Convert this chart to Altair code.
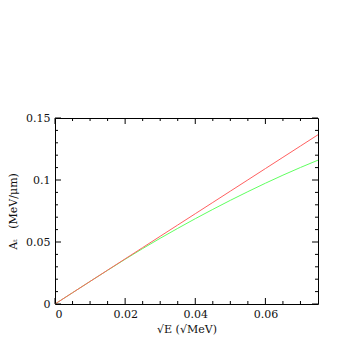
import altair as alt
import pandas as pd

x_vals = [0, 0.005, 0.01, 0.015, 0.02, 0.025, 0.03, 0.035, 0.04, 0.045, 0.05, 0.055, 0.06, 0.065, 0.07, 0.075]
red_vals = [0, 0.0091, 0.0182, 0.0273, 0.0364, 0.0455, 0.0546, 0.0637, 0.0728, 0.0819, 0.091, 0.1001, 0.1092, 0.1183, 0.1274, 0.1365]
green_vals = [0, 0.0091, 0.0182, 0.0272, 0.0361, 0.0447, 0.0530, 0.0610, 0.0688, 0.0763, 0.0836, 0.0906, 0.0974, 0.1039, 0.1101, 0.1160]

x_major = [0, 0.02, 0.04, 0.06]
x_minor = [0.005, 0.01, 0.015, 0.025, 0.03, 0.035, 0.045, 0.05, 0.055, 0.065, 0.07]
y_major = [0, 0.05, 0.1, 0.15]
y_minor = [0.01, 0.02, 0.03, 0.04, 0.06, 0.07, 0.08, 0.09, 0.11, 0.12, 0.13, 0.14]

W, H = 263, 186
FONT = "DejaVu Serif"

xs = alt.Scale(domain=[0, 0.075], nice=False, zero=False)
ys = alt.Scale(domain=[0, 0.15], nice=False, zero=False)

x_axis = alt.Axis(values=x_major, format=".2~f", tickSize=0, domain=False, grid=False,
                  labelFont=FONT, labelFontSize=11, labelPadding=4, labelColor="#111111",
                  titleFont=FONT, titleFontSize=11, titleFontWeight="normal",
                  titlePadding=4, titleColor="#111111")
y_axis = alt.Axis(values=y_major, format=".2~f", tickSize=0, domain=False, grid=False,
                  labelFont=FONT, labelFontSize=11, labelPadding=5, labelColor="#111111",
                  titleFont=FONT, titleFontSize=11, titleFontWeight="normal",
                  titlePadding=7, titleColor="#111111")
X_TITLE = "√E\u00a0(√MeV)"
Y_TITLE = "Aₜ\u00a0\u00a0\u00a0(MeV/μm)"

df = pd.DataFrame({"x": x_vals * 2,
                   "y": green_vals + red_vals,
                   "s": ["green"] * len(x_vals) + ["red"] * len(x_vals),
                   "o": [0] * len(x_vals) + [1] * len(x_vals)})

lines = alt.Chart(df).mark_line(strokeWidth=1).encode(
    x=alt.X("x:Q", scale=xs, title=X_TITLE, axis=x_axis),
    y=alt.Y("y:Q", scale=ys, title=Y_TITLE, axis=y_axis),
    color=alt.Color("s:N", scale=alt.Scale(domain=["green", "red"], range=["#60ff60", "#ff6060"]), legend=None),
    detail="s:N",
    order="o:Q",
)


def xticks(vals, length):
    d = pd.DataFrame({"x": vals})
    b = alt.Chart(d).mark_rule(color="black", strokeWidth=1).encode(
        x=alt.X("x:Q", scale=xs, title=X_TITLE, axis=x_axis), y=alt.value(H), y2=alt.value(H - length))
    t = alt.Chart(d).mark_rule(color="black", strokeWidth=1).encode(
        x=alt.X("x:Q", scale=xs, title=X_TITLE, axis=x_axis), y=alt.value(0), y2=alt.value(length))
    return [b, t]


def yticks(vals, length):
    d = pd.DataFrame({"y": vals})
    l = alt.Chart(d).mark_rule(color="black", strokeWidth=1).encode(
        y=alt.Y("y:Q", scale=ys, title=Y_TITLE, axis=y_axis), x=alt.value(0), x2=alt.value(length))
    r = alt.Chart(d).mark_rule(color="black", strokeWidth=1).encode(
        y=alt.Y("y:Q", scale=ys, title=Y_TITLE, axis=y_axis), x=alt.value(W), x2=alt.value(W - length))
    return [l, r]


layers = [lines] + xticks(x_major, 6) + xticks(x_minor, 3) + yticks(y_major, 6) + yticks(y_minor, 3)

chart = alt.layer(*layers).properties(
    width=W, height=H,
    autosize=alt.AutoSizeParams(type="none"),
    padding={"left": 47, "top": 110, "right": 30, "bottom": 45},
    background="white",
).configure_view(stroke="black", strokeWidth=1)

chart.save("out.html", embed_options={"renderer": "svg", "actions": False})
